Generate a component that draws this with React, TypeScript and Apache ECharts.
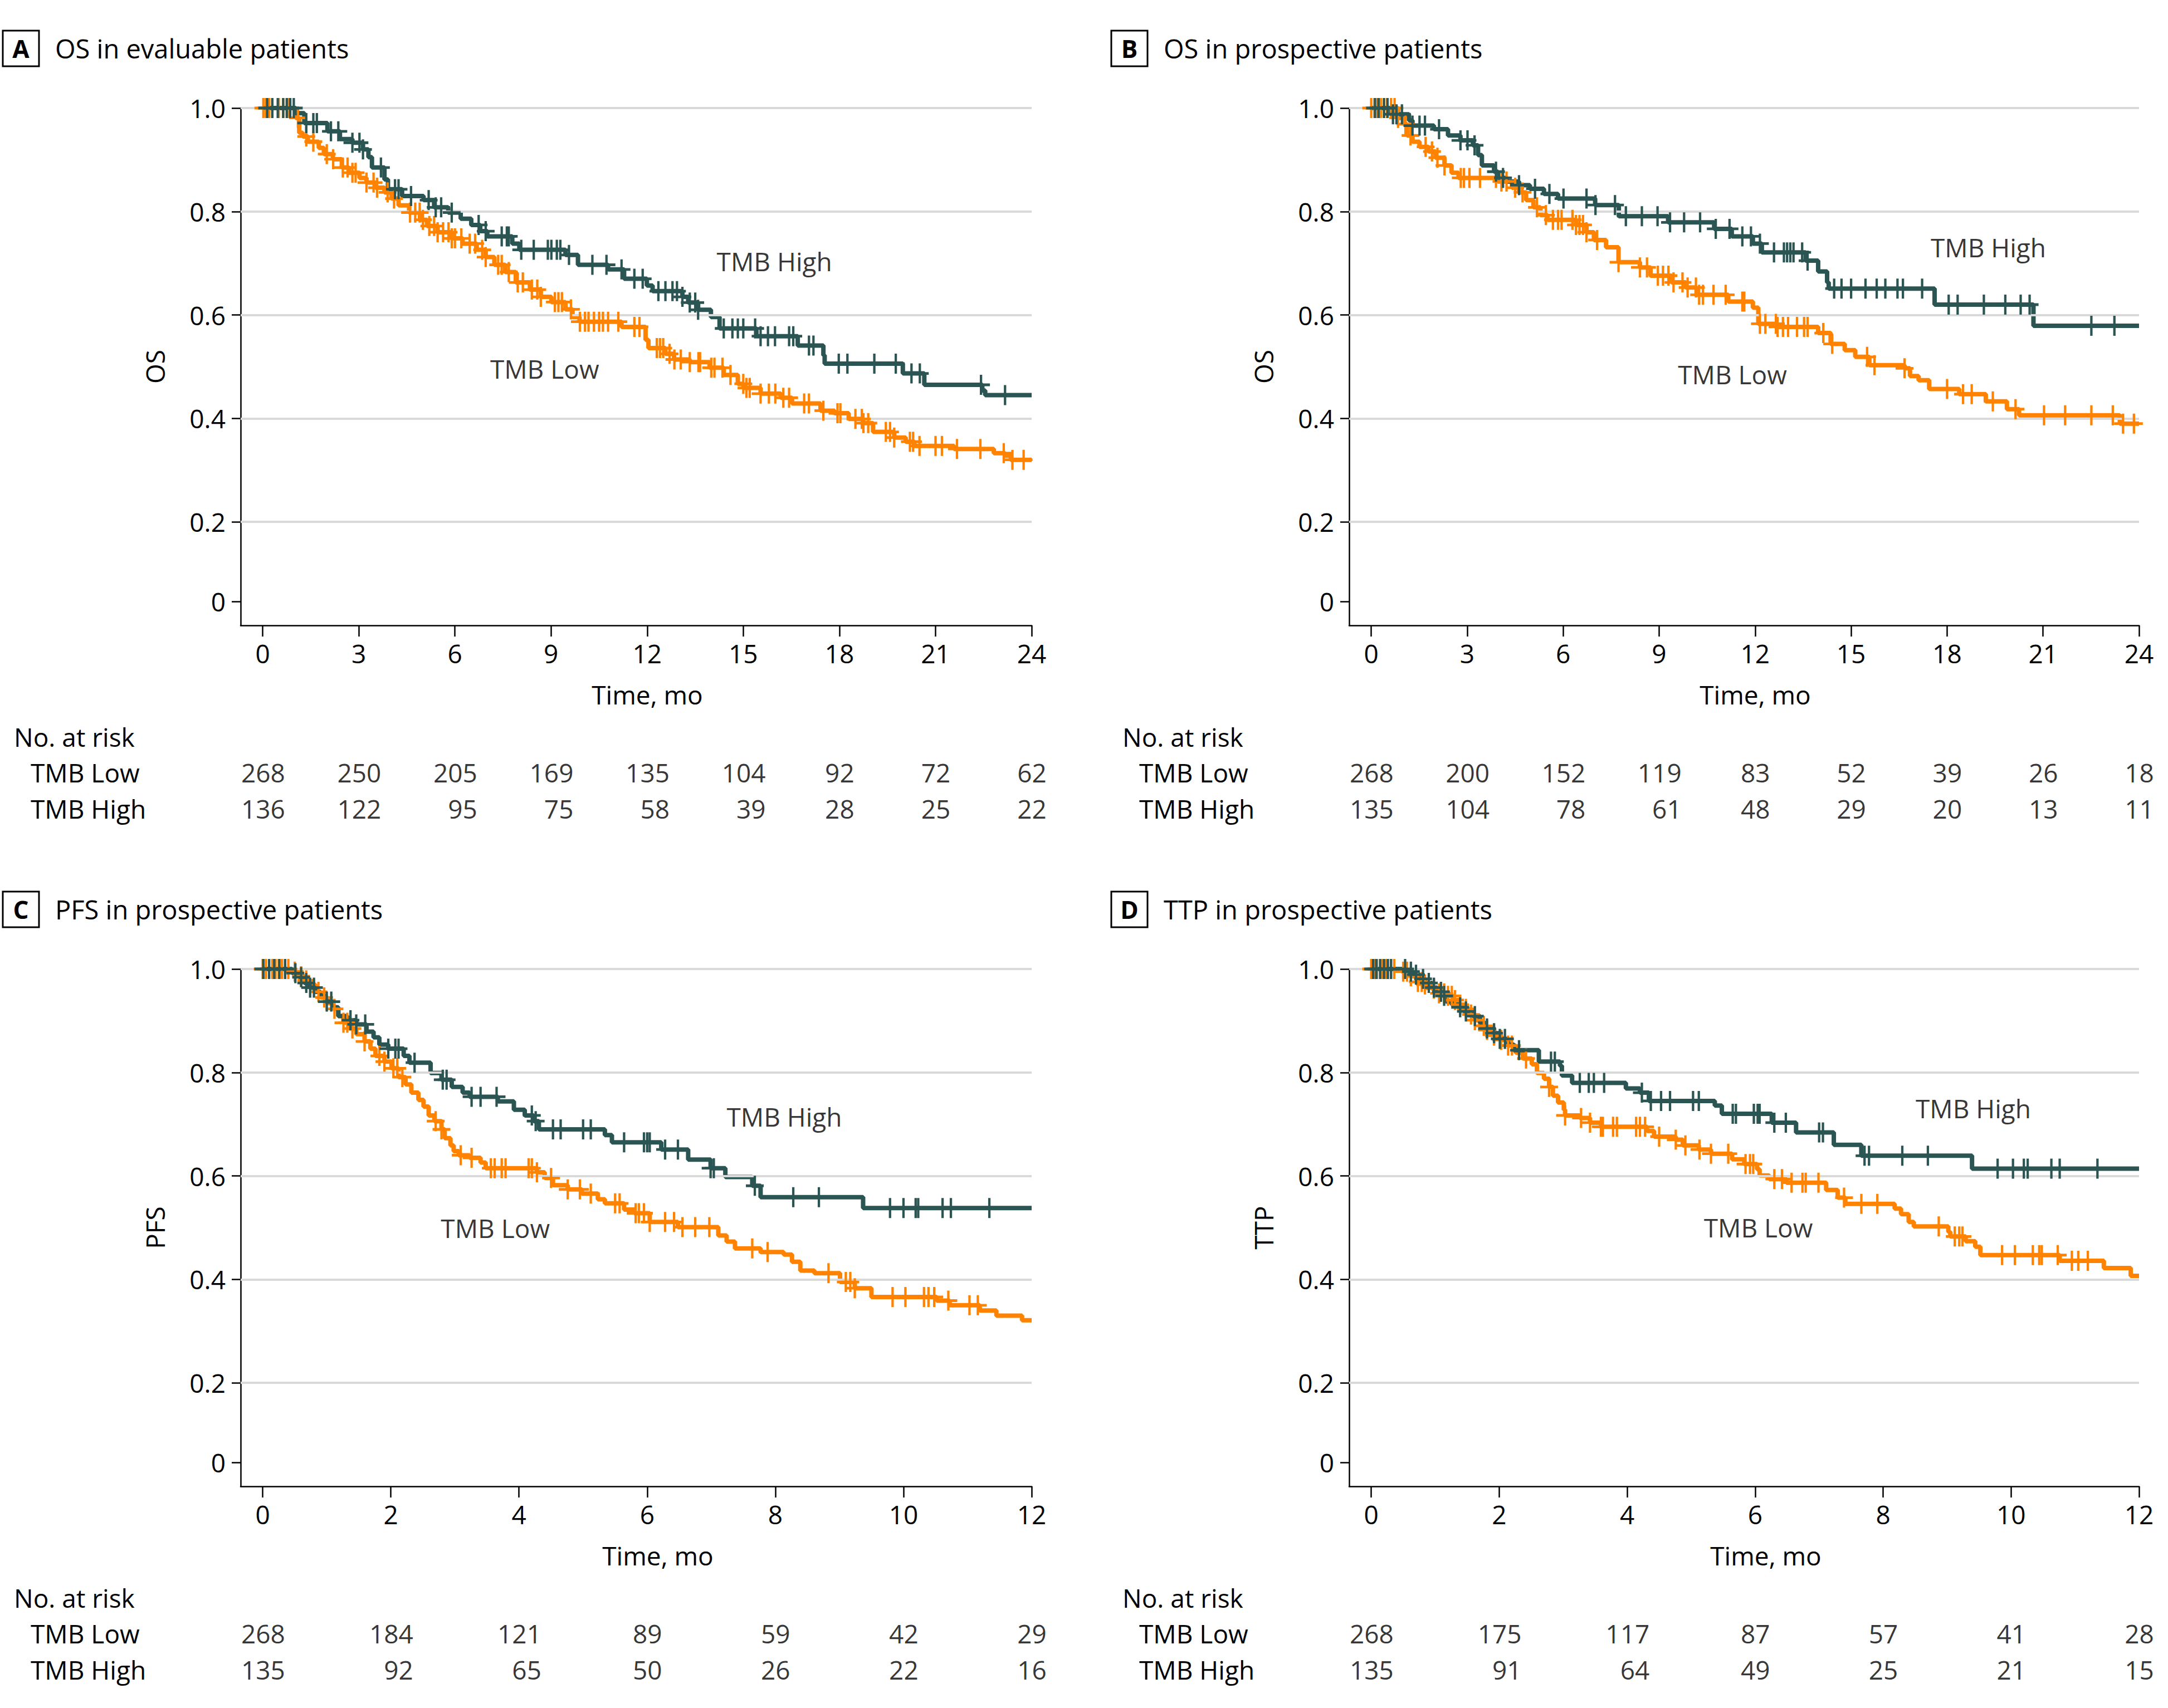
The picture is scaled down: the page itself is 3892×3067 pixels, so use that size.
import React, { useEffect, useRef } from "react";
import * as echarts from "echarts";

const HIGH_COLOR = "#2b5553";
const LOW_COLOR = "#ff8300";
const GRID_COLOR = "#d9d9d9";
const FONT = "'Open Sans', 'Liberation Sans', sans-serif";
const FS = 46;

// ---------- axis ticks ----------
const Y_GRID = [0.2, 0.4, 0.6, 0.8, 1.0];
const Y_TICK_VALUES = [0.046, 0.2, 0.4, 0.6, 0.8, 1.0];
const Y_TICK_LABELS = ["0", "0.2", "0.4", "0.6", "0.8", "1.0"];
const TICKS_24 = [0, 3, 6, 9, 12, 15, 18, 21, 24];
const TICKS_12 = [0, 2, 4, 6, 8, 10, 12];
const RISK_ROWS = ["TMB Low", "TMB High"];

// ---------- Panel A: OS in evaluable patients ----------
const A_HIGH = [[0,1],[1.03,0.99],[1.3,0.971],[2.02,0.955],[2.41,0.94],[2.8,0.933],[3.13,0.92],[3.3,0.905],[3.41,0.885],[3.8,0.862],[3.91,0.843],[4.35,0.83],[5.02,0.822],[5.35,0.808],[5.79,0.798],[6.18,0.786],[6.51,0.774],[6.79,0.762],[7.01,0.752],[7.79,0.738],[8.01,0.726],[9.45,0.716],[9.84,0.697],[10.78,0.688],[11.28,0.67],[11.99,0.657],[12.17,0.646],[13.1,0.635],[13.28,0.624],[13.59,0.61],[13.99,0.596],[14.26,0.574],[15.41,0.559],[16.7,0.541],[17.5,0.522],[17.54,0.506],[19.98,0.487],[20.65,0.465],[22.46,0.454],[22.55,0.445],[24,0.445]];
const A_LOW = [[0,1],[1.03,0.981],[1.14,0.952],[1.25,0.945],[1.41,0.935],[1.75,0.923],[1.91,0.911],[2.19,0.901],[2.47,0.885],[2.69,0.875],[3.02,0.865],[3.24,0.856],[3.52,0.846],[3.8,0.837],[4.02,0.825],[4.24,0.812],[4.57,0.798],[4.91,0.784],[5.13,0.772],[5.46,0.76],[5.9,0.748],[6.24,0.738],[6.68,0.726],[6.96,0.712],[7.23,0.697],[7.57,0.683],[7.9,0.663],[8.34,0.649],[8.68,0.635],[9.01,0.625],[9.45,0.611],[9.67,0.596],[9.89,0.587],[11.2,0.577],[11.95,0.552],[12.04,0.536],[12.57,0.525],[12.84,0.514],[13.33,0.509],[13.95,0.498],[14.39,0.484],[14.83,0.467],[15.01,0.459],[15.54,0.448],[16.17,0.44],[16.52,0.429],[17.41,0.415],[17.85,0.41],[18.29,0.399],[18.74,0.391],[19.05,0.374],[19.71,0.363],[20.07,0.355],[20.34,0.347],[21.58,0.341],[22.82,0.333],[23.17,0.328],[23.35,0.32],[24,0.32]];
const A_HIGH_CENSOR = [0.14,0.3,0.47,0.64,0.75,0.86,0.97,1.36,1.58,1.69,2.13,2.36,2.8,3.02,3.13,3.69,4.13,4.24,4.63,5.18,5.4,5.57,5.9,6.74,6.96,7.46,7.62,7.68,8.07,8.46,8.9,9.01,9.18,9.29,9.56,10.29,10.73,11.2,11.6,11.86,12.35,12.57,12.79,12.93,13.1,13.33,13.5,13.59,14.39,14.66,14.83,15.0,15.37,15.54,15.77,15.99,16.43,16.56,17.05,17.19,17.98,18.25,19.09,19.76,20.25,20.51,22.42,23.17];
const A_LOW_CENSOR = [0.02,0.1,0.15,0.2,0.3,0.5,0.64,0.8,1.1,1.36,1.58,2.0,2.2,2.5,2.65,2.8,2.9,3.24,3.46,3.57,3.9,4.1,4.6,4.76,4.9,5.0,5.2,5.35,5.46,5.63,5.8,5.9,6.0,6.2,6.46,6.63,6.85,6.96,7.35,7.46,7.68,7.96,8.12,8.4,8.57,8.68,9.12,9.23,9.34,9.62,9.9,10.06,10.17,10.34,10.5,10.62,10.78,11.1,11.6,11.76,12.3,12.4,12.5,12.7,12.85,13.05,13.33,13.6,13.65,14.0,14.1,14.35,14.6,15.0,15.1,15.2,15.54,15.8,16.0,16.25,16.43,16.9,17.05,17.5,17.94,18.03,18.5,18.7,18.75,18.9,19.45,19.58,19.71,20.2,20.3,20.5,21.0,21.2,21.67,22.4,23.13,23.4,23.75];
const A_RISK_LOW = [268, 250, 205, 169, 135, 104, 92, 72, 62];
const A_RISK_HIGH = [136, 122, 95, 75, 58, 39, 28, 25, 22];

// ---------- Panel B: OS in prospective patients ----------
const B_HIGH = [[0,1],[0.62,0.988],[1.18,0.976],[1.29,0.966],[1.96,0.959],[2.4,0.947],[2.79,0.9375],[3.18,0.928],[3.34,0.909],[3.46,0.889],[3.84,0.877],[3.96,0.865],[4.23,0.858],[4.62,0.851],[4.96,0.844],[5.4,0.834],[5.84,0.825],[7.0,0.8125],[7.74,0.791],[9.28,0.779],[10.72,0.7665],[11.27,0.752],[11.93,0.738],[12.21,0.721],[13.58,0.705],[13.97,0.684],[14.25,0.663],[14.3,0.651],[17.61,0.62],[20.7,0.579],[24,0.579]];
const B_LOW = [[0,1],[0.84,0.981],[1.01,0.969],[1.12,0.947],[1.29,0.935],[1.51,0.925],[1.79,0.916],[2.01,0.904],[2.29,0.889],[2.51,0.875],[2.73,0.865],[3.96,0.858],[4.4,0.846],[4.62,0.837],[4.84,0.822],[5.07,0.808],[5.29,0.793],[5.51,0.784],[6.4,0.774],[6.73,0.76],[6.96,0.745],[7.34,0.731],[7.73,0.702],[8.4,0.692],[8.73,0.676],[9.39,0.663],[9.83,0.653],[10.17,0.639],[11.16,0.626],[11.93,0.614],[12.1,0.583],[12.7,0.577],[13.97,0.565],[14.36,0.544],[14.8,0.532],[15.13,0.519],[15.57,0.503],[16.67,0.497],[16.84,0.482],[17.11,0.474],[17.44,0.457],[18.38,0.447],[19.21,0.433],[19.87,0.418],[20.25,0.406],[23.4,0.39],[24,0.39]];
const B_HIGH_CENSOR = [0.12,0.23,0.4,0.51,0.68,0.79,0.96,1.29,1.51,1.68,2.12,2.79,3.01,3.23,3.9,4.12,4.62,5.12,5.57,6.01,6.73,7.01,7.62,7.96,8.46,8.95,9.34,9.78,10.28,10.77,11.2,11.6,11.87,12.15,12.59,12.9,13.0,13.1,13.2,13.47,13.64,14.47,14.7,15.0,15.45,15.8,16.07,16.45,16.62,17.22,18.05,18.33,19.15,19.82,20.3,20.58,22.51,23.23];
const B_LOW_CENSOR = [0.0,0.1,0.2,0.3,0.4,0.5,0.62,0.73,0.84,1.07,1.23,1.7,1.9,2.07,2.29,2.8,2.9,3.07,3.4,3.9,4.07,4.23,4.5,4.73,5.18,5.46,5.68,5.84,5.95,6.29,6.4,6.51,6.62,6.73,7.06,7.73,8.4,8.62,8.96,9.12,9.29,9.45,9.73,9.89,10.15,10.25,10.37,10.7,11.08,11.6,11.66,12.15,12.32,12.65,12.7,12.87,13.03,13.31,13.53,13.64,14.13,14.41,15.5,15.73,16.67,18.0,18.5,18.77,19.43,20.14,21.03,21.69,22.51,23.18,23.5,23.84];
const B_RISK_LOW = [268, 200, 152, 119, 83, 52, 39, 26, 18];
const B_RISK_HIGH = [135, 104, 78, 61, 48, 29, 20, 13, 11];

// ---------- Panel C: PFS in prospective patients ----------
const C_HIGH = [[0,1],[0.46,0.992],[0.57,0.984],[0.65,0.973],[0.73,0.964],[0.82,0.956],[0.9,0.948],[0.98,0.937],[1.1,0.926],[1.18,0.909],[1.32,0.901],[1.46,0.893],[1.62,0.879],[1.73,0.868],[1.82,0.854],[1.96,0.846],[2.2,0.832],[2.29,0.819],[2.62,0.799],[2.79,0.786],[2.95,0.772],[3.12,0.761],[3.23,0.753],[3.67,0.744],[3.92,0.728],[4.09,0.717],[4.23,0.706],[4.31,0.69],[5.34,0.679],[5.45,0.665],[6.22,0.651],[6.64,0.6315],[6.99,0.615],[7.22,0.598],[7.64,0.581],[7.77,0.559],[9.37,0.538],[12,0.538]];
const C_LOW = [[0,1],[0.45,0.995],[0.6,0.986],[0.65,0.978],[0.73,0.97],[0.82,0.956],[0.9,0.945],[1.01,0.934],[1.1,0.923],[1.18,0.909],[1.26,0.896],[1.35,0.885],[1.46,0.874],[1.59,0.86],[1.68,0.846],[1.76,0.832],[1.9,0.821],[2.01,0.808],[2.12,0.791],[2.23,0.777],[2.32,0.761],[2.43,0.747],[2.51,0.734],[2.59,0.717],[2.68,0.706],[2.79,0.69],[2.84,0.673],[2.93,0.659],[2.98,0.648],[3.06,0.64],[3.23,0.635],[3.4,0.626],[3.48,0.615],[4.28,0.607],[4.4,0.596],[4.53,0.582],[4.76,0.574],[4.98,0.566],[5.23,0.555],[5.34,0.547],[5.64,0.535],[5.8,0.528],[6.04,0.511],[6.48,0.501],[7.11,0.485],[7.24,0.473],[7.37,0.46],[7.77,0.453],[8.13,0.448],[8.26,0.434],[8.39,0.417],[8.61,0.412],[9.01,0.395],[9.24,0.383],[9.5,0.366],[10.52,0.359],[10.72,0.35],[11.19,0.34],[11.45,0.33],[11.85,0.321],[12,0.321]];
const C_HIGH_CENSOR = [0.01,0.1,0.18,0.26,0.35,0.51,0.6,0.68,0.74,0.8,1.0,1.07,1.37,1.46,1.6,1.96,2.07,2.12,2.37,2.81,2.87,3.26,3.4,3.65,4.2,4.26,4.53,4.65,5.0,5.12,5.64,5.95,6.0,6.04,6.28,6.48,6.99,7.04,7.68,8.28,8.68,9.79,10.0,10.19,10.23,10.61,10.74,11.34];
const C_LOW_CENSOR = [0.0,0.05,0.1,0.15,0.2,0.25,0.3,0.35,0.4,0.5,0.6,0.68,0.87,0.96,1.12,1.26,1.32,1.4,1.59,1.82,1.9,2.04,2.1,2.18,2.7,2.79,3.09,3.26,3.56,3.62,3.73,3.79,4.15,4.2,4.28,4.5,4.76,4.95,5.12,5.5,5.57,5.82,5.87,5.95,6.04,6.28,6.42,6.55,6.75,6.97,7.64,7.88,8.83,9.1,9.17,9.24,9.83,10.03,10.32,10.39,10.48,10.7,11.03,11.16];
const C_RISK_LOW = [268, 184, 121, 89, 59, 42, 29];
const C_RISK_HIGH = [135, 92, 65, 50, 26, 22, 16];

// ---------- Panel D: TTP in prospective patients ----------
const D_HIGH = [[0,1],[0.56,0.995],[0.67,0.989],[0.76,0.981],[0.84,0.973],[0.95,0.964],[1.03,0.956],[1.12,0.948],[1.17,0.937],[1.26,0.931],[1.37,0.926],[1.45,0.918],[1.59,0.909],[1.7,0.896],[1.78,0.885],[1.92,0.876],[2.01,0.865],[2.14,0.854],[2.23,0.843],[2.62,0.821],[2.95,0.813],[2.98,0.794],[3.14,0.78],[3.98,0.769],[4.2,0.761],[4.34,0.745],[5.37,0.736],[5.48,0.72],[6.26,0.703],[6.64,0.684],[7.23,0.66],[7.66,0.639],[9.39,0.614],[12,0.614]];
const D_LOW = [[0,1],[0.48,0.995],[0.62,0.986],[0.73,0.975],[0.84,0.97],[0.95,0.962],[1.06,0.953],[1.17,0.948],[1.28,0.94],[1.37,0.931],[1.45,0.923],[1.53,0.912],[1.62,0.901],[1.7,0.89],[1.81,0.882],[1.92,0.871],[2.03,0.863],[2.14,0.852],[2.26,0.838],[2.37,0.827],[2.51,0.816],[2.59,0.799],[2.7,0.788],[2.78,0.772],[2.84,0.755],[2.92,0.742],[3.01,0.728],[3.03,0.717],[3.26,0.712],[3.42,0.703],[3.59,0.695],[4.31,0.687],[4.42,0.676],[4.76,0.67],[4.87,0.659],[5.12,0.651],[5.31,0.643],[5.64,0.632],[5.83,0.623],[6.03,0.613],[6.07,0.601],[6.22,0.594],[6.49,0.587],[7.11,0.573],[7.29,0.558],[7.41,0.546],[8.18,0.537],[8.28,0.526],[8.4,0.511],[8.48,0.5025],[9.02,0.492],[9.05,0.483],[9.29,0.474],[9.44,0.463],[9.52,0.447],[10.76,0.436],[11.45,0.422],[11.87,0.407],[12,0.407]];
const D_HIGH_CENSOR = [0.03,0.08,0.14,0.2,0.26,0.31,0.53,0.62,0.7,0.81,0.9,0.98,1.09,1.14,1.39,1.48,1.62,1.81,1.92,2.01,2.09,2.31,2.81,2.87,3.26,3.4,3.48,3.64,4.23,4.37,4.53,4.67,5.03,5.12,5.65,5.7,5.98,6.04,6.07,6.3,6.48,7.0,7.06,7.71,7.78,8.3,8.7,9.79,10.03,10.2,10.26,10.63,10.76,11.35];
const D_LOW_CENSOR = [0.0,0.05,0.09,0.14,0.18,0.22,0.26,0.31,0.36,0.5,0.56,0.62,0.73,0.79,0.84,0.98,1.06,1.14,1.2,1.26,1.31,1.39,1.48,1.56,1.62,1.76,1.81,1.92,2.03,2.14,2.2,2.42,2.78,3.03,3.28,3.42,3.59,3.62,3.78,3.84,4.14,4.2,4.28,4.5,4.76,4.91,5.13,5.31,5.58,5.85,5.92,5.97,6.3,6.42,6.57,6.74,6.79,6.99,7.39,7.66,7.91,8.87,9.12,9.19,9.24,9.86,10.06,10.34,10.44,10.48,10.73,10.95,11.05,11.2];
const D_RISK_LOW = [268, 175, 117, 87, 57, 41, 28];
const D_RISK_HIGH = [135, 91, 64, 49, 25, 21, 15];

// ---------- panel definitions ----------
const PANELS = [
  { letter: "A", title: "OS in evaluable patients", yName: "OS", tMax: 24, ticks: TICKS_24,
    high: A_HIGH, low: A_LOW, highCensor: A_HIGH_CENSOR, lowCensor: A_LOW_CENSOR,
    riskLow: A_RISK_LOW, riskHigh: A_RISK_HIGH,
    layout: { left: 432, top: 194, width: 1420, nameShift: 40, highLabel: [15.97, 0.704], lowLabel: [8.8, 0.496] } },
  { letter: "B", title: "OS in prospective patients", yName: "OS", tMax: 24, ticks: TICKS_24,
    high: B_HIGH, low: B_LOW, highCensor: B_HIGH_CENSOR, lowCensor: B_LOW_CENSOR,
    riskLow: B_RISK_LOW, riskHigh: B_RISK_HIGH,
    layout: { left: 2422, top: 194, width: 1418, nameShift: 40, highLabel: [19.29, 0.731], lowLabel: [11.29, 0.485] } },
  { letter: "C", title: "PFS in prospective patients", yName: "PFS", tMax: 12, ticks: TICKS_12,
    high: C_HIGH, low: C_LOW, highCensor: C_HIGH_CENSOR, lowCensor: C_LOW_CENSOR,
    riskLow: C_RISK_LOW, riskHigh: C_RISK_HIGH,
    layout: { left: 432, top: 1740, width: 1420, nameShift: 78, highLabel: [8.14, 0.715], lowLabel: [3.63, 0.499] } },
  { letter: "D", title: "TTP in prospective patients", yName: "TTP", tMax: 12, ticks: TICKS_12,
    high: D_HIGH, low: D_LOW, highCensor: D_HIGH_CENSOR, lowCensor: D_LOW_CENSOR,
    riskLow: D_RISK_LOW, riskHigh: D_RISK_HIGH,
    layout: { left: 2422, top: 1740, width: 1418, nameShift: 78, highLabel: [9.41, 0.731], lowLabel: [6.05, 0.501] } },
];

const PLOT_H = 929;
const AXIS_PAD = 39.6; // px between y axis and t = 0
const PLUS = "path://M13,0h4v13h13v4h-13v13h-4v-13h-13v-4h13z";

function stepAt(curve: number[][], t: number): number {
  let v = curve[0][1];
  for (const p of curve) if (p[0] <= t) v = p[1];
  return v;
}

const txt = { color: "#000", fontFamily: FONT, fontSize: FS };

function buildOption() {
  const grid: any[] = [];
  const xAxis: any[] = [];
  const yAxis: any[] = [];
  const series: any[] = [];
  const graphic: any[] = [];

  PANELS.forEach((p, i) => {
    const L = p.layout;
    const gi = 2 * i;
    const ri = 2 * i + 1;
    const xMin = (-AXIS_PAD * p.tMax) / (L.width - AXIS_PAD);

    grid.push({ left: L.left, top: L.top, width: L.width, height: PLOT_H, containLabel: false });
    grid.push({ left: L.left, top: L.top + 1160.5, width: L.width, height: 130, containLabel: false });

    xAxis.push({
      gridIndex: gi, type: "value", min: xMin, max: p.tMax,
      axisLine: { show: true, onZero: false, lineStyle: { color: "#000", width: 2.5 } },
      axisTick: { show: true, customValues: p.ticks, length: 20, lineStyle: { color: "#000", width: 2.5 } },
      axisLabel: { show: true, customValues: p.ticks, margin: 27, ...txt },
      splitLine: { show: false },
      name: "Time, mo", nameLocation: "middle", nameGap: 101,
      nameTextStyle: { ...txt, padding: [0, 0, 0, L.nameShift] },
    });
    xAxis.push({ gridIndex: ri, type: "value", min: xMin, max: p.tMax, show: false });

    yAxis.push({
      gridIndex: gi, type: "value", min: 0, max: 1,
      axisLine: { show: true, onZero: false, lineStyle: { color: "#000", width: 2.5 } },
      axisTick: { show: true, customValues: Y_TICK_VALUES, length: 16, lineStyle: { color: "#000", width: 2.5 } },
      axisLabel: {
        show: true, customValues: Y_TICK_VALUES, margin: 27, ...txt,
        formatter: (v: number) => {
          let best = 0;
          Y_TICK_VALUES.forEach((u, k) => { if (Math.abs(u - v) < Math.abs(Y_TICK_VALUES[best] - v)) best = k; });
          return Y_TICK_LABELS[best];
        },
      },
      splitLine: { show: false },
      name: p.yName, nameLocation: "middle", nameGap: 131, nameTextStyle: { ...txt },
    });
    yAxis.push({
      gridIndex: ri, type: "category", data: RISK_ROWS, inverse: true,
      axisLine: { show: false }, axisTick: { show: false },
      axisLabel: { show: true, align: "left", margin: 377, ...txt },
    });

    // gridlines
    series.push({
      type: "line", xAxisIndex: gi, yAxisIndex: gi, data: [[0, 1]], symbol: "none",
      lineStyle: { opacity: 0 }, z: 1, silent: true,
      markLine: {
        silent: true, symbol: ["none", "none"], label: { show: false },
        lineStyle: { color: GRID_COLOR, width: 4, type: "solid" },
        data: Y_GRID.map((v) => ({ yAxis: v })),
      },
    });

    const groups = [
      { curve: p.low, censor: p.lowCensor, color: LOW_COLOR },
      { curve: p.high, censor: p.highCensor, color: HIGH_COLOR },
    ];
    // curves
    groups.forEach((g, k) => {
      series.push({
        type: "line", xAxisIndex: gi, yAxisIndex: gi, step: "end", data: g.curve,
        symbol: "none", showSymbol: false, lineStyle: { color: g.color, width: 8 }, z: 3 + k, silent: true,
      });
    });
    // censor marks
    groups.forEach((g, k) => {
      series.push({
        type: "scatter", xAxisIndex: gi, yAxisIndex: gi,
        data: g.censor.map((t) => [t, stepAt(g.curve, t)]),
        symbol: PLUS, symbolSize: [32, 36], itemStyle: { color: g.color, opacity: 1 }, z: 5 + k, silent: true,
      });
    });

    // curve labels
    series.push({
      type: "scatter", xAxisIndex: gi, yAxisIndex: gi, symbolSize: 1, itemStyle: { color: "transparent" }, z: 8, silent: true,
      data: [
        { value: L.highLabel, label: { formatter: "TMB High" } },
        { value: L.lowLabel, label: { formatter: "TMB Low" } },
      ],
      label: { show: true, position: "inside", align: "center", verticalAlign: "middle", ...txt },
    });

    // number at risk
    const risk: any[] = [];
    p.ticks.forEach((t, c) => {
      const digits = String(Math.max(p.riskLow[c], p.riskHigh[c])).length;
      const dx = digits * 13.4;
      risk.push({ value: [t, 0, p.riskLow[c]], label: { offset: [dx, 0] } });
      risk.push({ value: [t, 1, p.riskHigh[c]], label: { offset: [dx, 0] } });
    });
    series.push({
      type: "scatter", xAxisIndex: ri, yAxisIndex: ri, symbolSize: 1, itemStyle: { color: "transparent" }, silent: true,
      data: risk,
      label: { show: true, position: "inside", align: "right", verticalAlign: "middle", ...txt,
        formatter: (q: any) => String(q.value[2]) },
    });

    // titles
    const cy = L.top - 107;
    graphic.push({ type: "rect", shape: { x: L.left - 427, y: cy - 32, width: 65, height: 64 },
      style: { fill: "#fff", stroke: "#000", lineWidth: 3 } });
    graphic.push({ type: "text", x: L.left - 394.5, y: cy,
      style: { text: p.letter, fill: "#000", fontFamily: FONT, fontSize: 44, fontWeight: "bold", textAlign: "center", textVerticalAlign: "middle" } });
    graphic.push({ type: "text", x: L.left - 333, y: cy,
      style: { text: p.title, fill: "#000", fontFamily: FONT, fontSize: 47, textAlign: "left", textVerticalAlign: "middle" } });
    graphic.push({ type: "text", x: L.left - 407, y: L.top + 1129,
      style: { text: "No. at risk", fill: "#000", fontFamily: FONT, fontSize: FS, textAlign: "left", textVerticalAlign: "middle" } });
  });

  return {
    animation: false,
    backgroundColor: "#fff",
    textStyle: { fontFamily: FONT },
    grid, xAxis, yAxis, series, graphic,
  };
}

export default function App() {
  const ref = useRef<HTMLDivElement>(null);
  useEffect(() => {
    if (!ref.current) return;
    const chart = echarts.init(ref.current, null, { renderer: "svg" });
    chart.setOption(buildOption());
    return () => chart.dispose();
  }, []);
  return (
    <div
      ref={ref}
      style={{ position: "absolute", left: 0, top: 0, width: 3892, height: 3067, background: "#fff" }}
    />
  );
}
